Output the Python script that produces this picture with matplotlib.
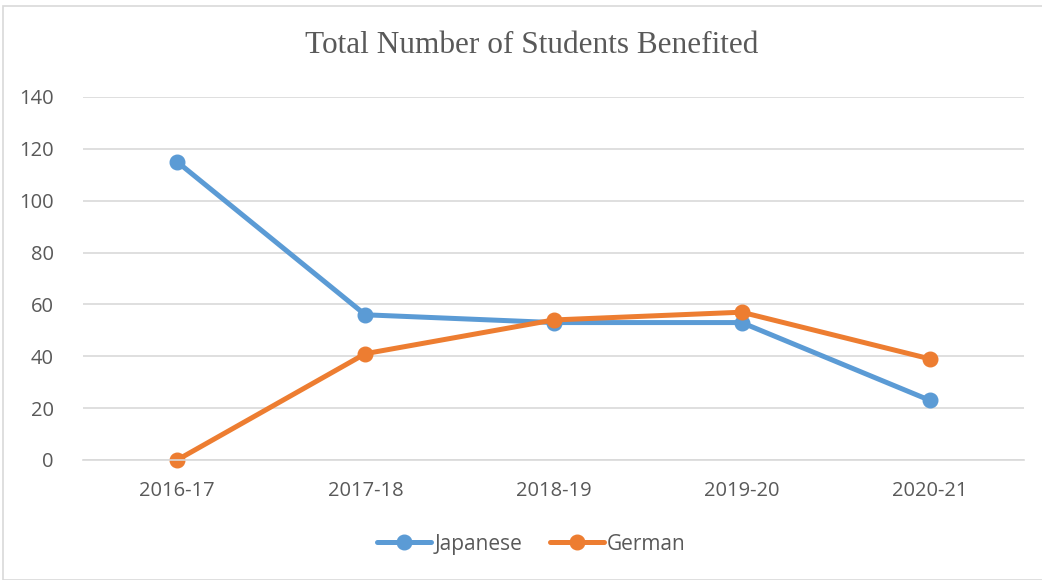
import matplotlib.pyplot as plt
from matplotlib.patches import Rectangle

# data
years = ["2016-17", "2017-18", "2018-19", "2019-20", "2020-21"]
japanese = [115, 56, 53, 53, 23]
german = [0, 41, 54, 57, 39]

blue = "#5B9BD5"
orange = "#ED7D31"
text_grey = "#595959"

fig = plt.figure(figsize=(10.42, 5.8), dpi=100)
ax = fig.add_axes([0.0797, 0.2069, 0.9030, 0.6259])

# chart border
fig.patches.append(Rectangle((0.003, 0.0), 1.2, 0.99, transform=fig.transFigure,
                             fill=False, edgecolor="#D9D9D9", linewidth=1.2))

x = range(len(years))
ax.plot(x, japanese, color=blue, lw=3.6, marker="o", ms=10.5, label="Japanese",
        solid_capstyle="round", clip_on=False)
ax.plot(x, german, color=orange, lw=3.6, marker="o", ms=10.5, label="German",
        solid_capstyle="round", clip_on=False)

ax.set_xlim(-0.5, len(years) - 0.5)
ax.set_ylim(0, 140)
ax.set_yticks(range(0, 141, 20))
ax.set_xticks(list(x))
ax.set_xticklabels(years)
ax.yaxis.grid(True, color="#D9D9D9", lw=1.2)
ax.set_axisbelow(True)
for s in ["top", "right", "left"]:
    ax.spines[s].set_visible(False)
ax.spines["bottom"].set_color("#D9D9D9")
ax.spines["bottom"].set_linewidth(1.2)
ax.tick_params(length=0, labelsize=14.5, labelcolor=text_grey)
ax.tick_params(axis="x", pad=15)
ax.tick_params(axis="y", pad=21)
for lab in ax.get_xticklabels() + ax.get_yticklabels():
    lab.set_family("Open Sans")

fig.text(0.51, 0.921, "Total Number of Students Benefited", ha="center", va="center",
         family="Liberation Serif", fontsize=22.5, color=text_grey)

leg = fig.legend(loc="center", bbox_to_anchor=(0.51, 0.062), ncol=2, frameon=False,
                 prop={"family": "Open Sans", "size": 15}, handlelength=2.6,
                 columnspacing=1.3, handletextpad=0.15)
for t in leg.get_texts():
    t.set_color(text_grey)

fig.savefig("out.png", dpi=100)
